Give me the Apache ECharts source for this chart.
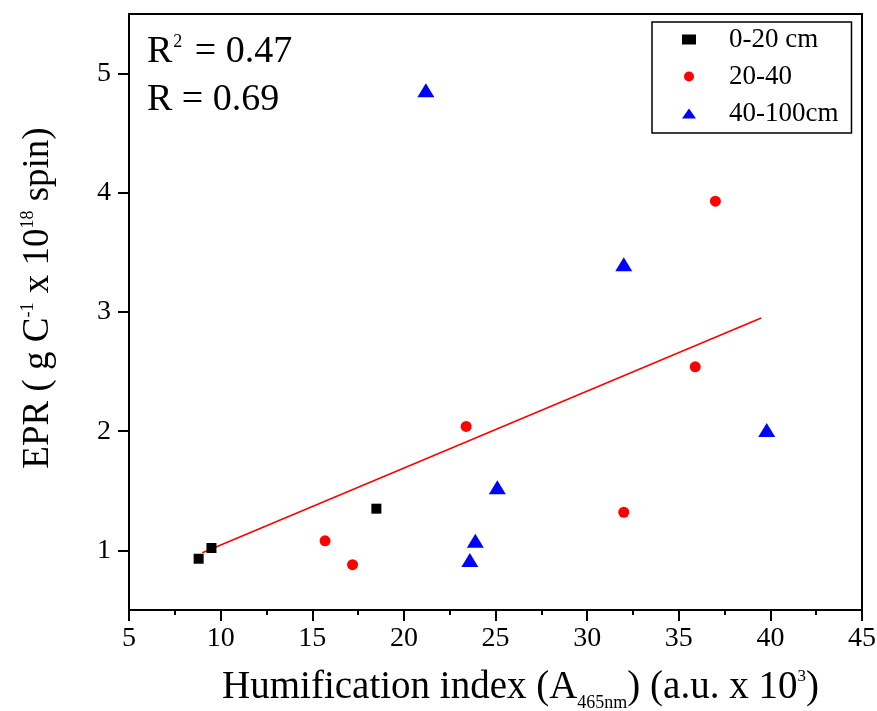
<!DOCTYPE html>
<html>
<head>
<meta charset="utf-8">
<script src="https://cdn.jsdelivr.net/npm/echarts@6/dist/echarts.min.js"></script>
<style>
  html, body { margin: 0; padding: 0; background: #fff; }
  #chart { width: 877px; height: 711px; }
</style>
</head>
<body>
<div id="chart"></div>
<script>
// 数据：三个深度层
const names = ['0-20 cm', '20-40', '40-100cm']
const x020 = [8.8, 9.5, 18.5]
const y020 = [0.93, 1.02, 1.35]
const x2040 = [15.7, 17.2, 23.4, 32.0, 35.9, 37.0]
const y2040 = [1.08, 0.88, 2.04, 1.32, 2.54, 3.93]
const x40100 = [21.2, 23.6, 23.9, 25.1, 32.0, 39.8]
const y40100 = [4.86, 0.92, 1.08, 1.53, 3.40, 2.01]
// 拟合线
const fitX = [9.0, 39.5]
const fitY = [0.98, 2.95]
const yTicks = [1, 2, 3, 4, 5]
const statLines = ['0.47', '0.69']

const font = 'Liberation Serif'
const pairs = (xs, ys) => xs.map((x, i) => [x, ys[i]])

var myChart = echarts.init(document.getElementById('chart'))
var option = {
  backgroundColor: '#fff',
  animation: false,
  grid: {
    left: 129, right: 15, top: 14, bottom: 101,
    outerBoundsMode: 'none',
    show: true, borderColor: '#000', borderWidth: 2
  },
  legend: {
    data: names,
    orient: 'vertical',
    left: 652, top: 22,
    padding: [4, 13, 6, 30],
    itemWidth: 14, itemHeight: 10,
    itemGap: 10,
    borderColor: '#000', borderWidth: 1.5,
    textStyle: { fontFamily: font, fontSize: 27, lineHeight: 26, color: '#000', padding: [0, 0, 0, 28] }
  },
  graphic: [
    {
      type: 'text', left: 147, top: 33,
      style: {
        text: '{a|R}{s|2}{a| = ' + statLines[0] + '}',
        rich: {
          a: { fontFamily: font, fontSize: 38, color: '#000' },
          s: { fontFamily: font, fontSize: 18, color: '#000', padding: [0, 3, 19, 1] }
        }
      }
    },
    {
      type: 'text', left: 147, top: 81,
      style: {
        text: 'R = ' + statLines[1],
        fontFamily: font, fontSize: 38, fill: '#000'
      }
    }
  ],
  xAxis: {
    type: 'value',
    min: 5, max: 45, interval: 5,
    name: '{n|Humification index (A}{b|465nm}{n|) (a.u. x 10}{p|3}{n|)}',
    nameLocation: 'middle',
    nameGap: 54,
    nameTextStyle: {
      padding: [0, 0, 0, 50],
      rich: {
        n: { fontFamily: font, fontSize: 39, color: '#000' },
        b: { fontFamily: font, fontSize: 18, color: '#000', padding: [30, 0, 0, 0] },
        p: { fontFamily: font, fontSize: 17, color: '#000', padding: [0, 0, 22, 0] }
      }
    },
    axisLine: { onZero: false, lineStyle: { color: '#000', width: 2 } },
    axisTick: { length: 11, lineStyle: { color: '#000', width: 2 } },
    minorTick: { show: true, splitNumber: 2, length: 5, lineStyle: { color: '#000', width: 2 } },
    axisLabel: { fontFamily: font, fontSize: 28, color: '#000', margin: 15 },
    splitLine: { show: false }
  },
  yAxis: {
    type: 'value',
    min: 0.5, max: 5.5, interval: 0.5,
    name: '{n|EPR ( g C}{p|-1}{n| x 10}{p|18}{n| spin)}',
    nameLocation: 'middle',
    nameRotate: 90,
    nameGap: 72,
    nameTextStyle: {
      padding: [0, 0, 0, 28],
      rich: {
        n: { fontFamily: font, fontSize: 37, color: '#000' },
        p: { fontFamily: font, fontSize: 18, color: '#000', padding: [0, 0, 20, 0] }
      }
    },
    axisLine: { onZero: false, lineStyle: { color: '#000', width: 2 } },
    axisTick: { length: 11, customValues: yTicks, lineStyle: { color: '#000', width: 2 } },
    axisLabel: { fontFamily: font, fontSize: 28, color: '#000', margin: 18, customValues: yTicks },
    splitLine: { show: false }
  },
  series: [
    {
      name: names[0], type: 'scatter', symbol: 'rect', symbolSize: 10,
      itemStyle: { color: '#000', opacity: 1 },
      data: pairs(x020, y020)
    },
    {
      name: names[1], type: 'scatter', symbol: 'circle', symbolSize: 11,
      itemStyle: { color: '#ff0000', opacity: 1 },
      data: pairs(x2040, y2040)
    },
    {
      name: names[2], type: 'scatter', symbol: 'triangle', symbolSize: [17, 14],
      itemStyle: { color: '#0000ff', opacity: 1 },
      data: pairs(x40100, y40100)
    },
    {
      name: 'fit', type: 'line', symbol: 'none', silent: true,
      lineStyle: { color: '#ff0000', width: 1.5 },
      data: pairs(fitX, fitY),
      z: 1
    }
  ]
}
myChart.setOption(option)
</script>
</body>
</html>
